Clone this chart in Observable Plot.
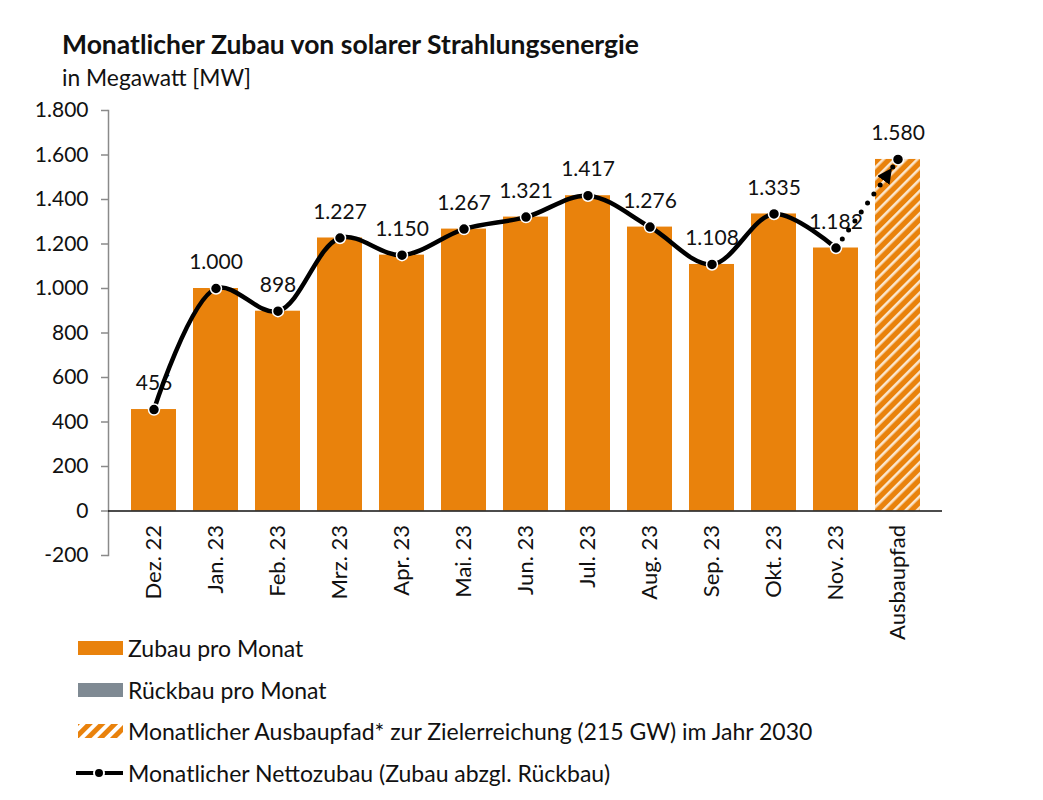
<!DOCTYPE html>
<html>
<head>
<meta charset="utf-8">
<script src="https://cdn.jsdelivr.net/npm/d3@7"></script>
<script src="https://cdn.jsdelivr.net/npm/@observablehq/plot@0.6"></script>
<style>
  body { margin: 0; background: #fff; font-family: Lato, "Open Sans", sans-serif; color: #111; }
  #wrap { position: relative; width: 1043px; height: 800px; overflow: hidden; }
  #title { position: absolute; left: 62px; top: 31px; font-size: 26.5px; font-weight: 700; line-height: 1; white-space: nowrap; }
  #subtitle { position: absolute; left: 62px; top: 66px; font-size: 22.8px; line-height: 1; white-space: nowrap; }
  #plot { position: absolute; left: 0; top: 0; }
  #legend { position: absolute; left: 74px; top: 627px; font-size: 23px; }
  .row { display: flex; align-items: center; height: 41.7px; white-space: nowrap; }
  .row svg { margin-right: 4px; }
</style>
</head>
<body>
<div id="wrap">
  <div id="plot"></div>
  <div id="title">Monatlicher Zubau von solarer Strahlungsenergie</div>
  <div id="subtitle">in Megawatt [MW]</div>
  <div id="legend"></div>
</div>
<script>
// ---- data ----
const months = ["Dez. 22", "Jan. 23", "Feb. 23", "Mrz. 23", "Apr. 23", "Mai. 23", "Jun. 23", "Jul. 23", "Aug. 23", "Sep. 23", "Okt. 23", "Nov. 23"];
const zubau  = [456, 1000, 898, 1227, 1150, 1267, 1321, 1417, 1276, 1108, 1335, 1182];
const netto  = [456, 1000, 898, 1227, 1150, 1267, 1321, 1417, 1276, 1108, 1335, 1182];
const targetLabel = "Ausbaupfad";
const targetValue = 1580;
const yTicks = [-200, 0, 200, 400, 600, 800, 1000, 1200, 1400, 1600, 1800];
const legendItems = [
  "Zubau pro Monat",
  "Rückbau pro Monat",
  "Monatlicher Ausbaupfad* zur Zielerreichung (215 GW) im Jahr 2030",
  "Monatlicher Nettozubau (Zubau abzgl. Rückbau)"
];

const ORANGE = "#E9820C";
const GREY = "#7F8A93";

const categories = [...months, targetLabel];
const bars = months.map((m, i) => ({x: m, y: zubau[i]}));
const netData = months.map((m, i) => ({x: m, y: netto[i]}));
const targetData = [{x: targetLabel, y: targetValue}];
const trend = [{x: months[months.length - 1], y: netto[netto.length - 1]}, {x: targetLabel, y: targetValue}];
const labels = [...netData, ...targetData];

const de = d3.formatLocale({decimal: ",", thousands: ".", grouping: [3], currency: ["", " €"], minus: "-"});
const fmt = de.format(",d");

const FONT = 21;

const svg = Plot.plot({
  width: 1043,
  height: 650,
  marginTop: 110,
  marginBottom: 95,
  marginLeft: 108,
  marginRight: 101,
  style: {fontFamily: "Lato, 'Open Sans', sans-serif", fontSize: FONT + "px", color: "#111", background: "transparent"},
  x: {domain: categories, padding: 0.28, axis: null},
  y: {domain: [-200, 1800], axis: null},
  marks: [
    Plot.barY(bars, {x: "x", y: "y", fill: ORANGE}),
    Plot.barY(targetData, {x: "x", y: "y", fill: "url(#hatch)"}),
    Plot.frame({anchor: "left", stroke: "#8a8a8a", strokeWidth: 1.5}),
    Plot.axisY({ticks: yTicks, tickFormat: fmt, tickSize: 7, tickPadding: 13, stroke: "#8a8a8a", strokeWidth: 1.5, fontSize: FONT, label: null}),
    Plot.ruleY([0], {stroke: "#111", strokeWidth: 1.5}),
    Plot.text(categories, {x: d => d, y: () => 0, text: d => d, rotate: -90, textAnchor: "end", dy: 14, fontSize: 22, fill: "#111"}),
    Plot.text(labels, {x: "x", y: "y", text: d => fmt(d.y), dy: -26, fontSize: FONT, fill: "#111"}),
    Plot.line(trend, {x: "x", y: "y", stroke: "#000", strokeWidth: 5, strokeDasharray: "0 11", strokeLinecap: "round"}),
    Plot.line(netData, {x: "x", y: "y", stroke: "#000", strokeWidth: 4.5, curve: "catmull-rom"}),
    Plot.dot(labels, {x: "x", y: "y", r: 5.5, fill: "#000", stroke: "#fff", strokeWidth: 1.5})
  ]
});

// defs: hatch pattern + arrow head
const s = d3.select(svg);
const defs = s.insert("defs", ":first-child");
const pat = defs.append("pattern").attr("id", "hatch").attr("patternUnits", "userSpaceOnUse")
  .attr("width", 8).attr("height", 8).attr("patternTransform", "rotate(45)");
pat.append("rect").attr("width", 8).attr("height", 8).attr("fill", ORANGE);
pat.append("rect").attr("x", 0).attr("width", 2.6).attr("height", 8).attr("fill", "#FBE7CF");
const mk = defs.append("marker").attr("id", "tri").attr("viewBox", "0 0 10 10")
  .attr("refX", 17).attr("refY", 5).attr("markerWidth", 15).attr("markerHeight", 15)
  .attr("markerUnits", "userSpaceOnUse").attr("orient", "auto");
mk.append("path").attr("d", "M0,0L10,5L0,10Z").attr("fill", "#000");
s.selectAll("g[stroke-dasharray] path").attr("marker-end", "url(#tri)");

document.getElementById("plot").appendChild(svg);

// legend
const lg = d3.select("#legend");
legendItems.forEach((t, i) => {
  const row = lg.append("div").attr("class", "row");
  const sw = row.append("svg").attr("width", 50).attr("height", 16);
  if (i === 0) sw.append("rect").attr("x", 4).attr("y", 1).attr("width", 45).attr("height", 14).attr("fill", ORANGE);
  if (i === 1) sw.append("rect").attr("x", 4).attr("y", 1).attr("width", 45).attr("height", 14).attr("fill", GREY);
  if (i === 2) {
    const d2 = sw.append("defs").append("pattern").attr("id", "hatchL").attr("patternUnits", "userSpaceOnUse")
      .attr("width", 9).attr("height", 9).attr("patternTransform", "rotate(45)");
    d2.append("rect").attr("width", 9).attr("height", 9).attr("fill", "#fff");
    d2.append("rect").attr("width", 5).attr("height", 9).attr("fill", ORANGE);
    sw.append("rect").attr("x", 4).attr("y", 1).attr("width", 45).attr("height", 14).attr("fill", "url(#hatchL)");
  }
  if (i === 3) {
    sw.append("line").attr("x1", 2).attr("x2", 49).attr("y1", 8).attr("y2", 8).attr("stroke", "#000").attr("stroke-width", 4);
    sw.append("circle").attr("cx", 25).attr("cy", 8).attr("r", 5).attr("fill", "#000").attr("stroke", "#fff").attr("stroke-width", 2);
  }
  row.append("span").text(t);
});
</script>
</body>
</html>
